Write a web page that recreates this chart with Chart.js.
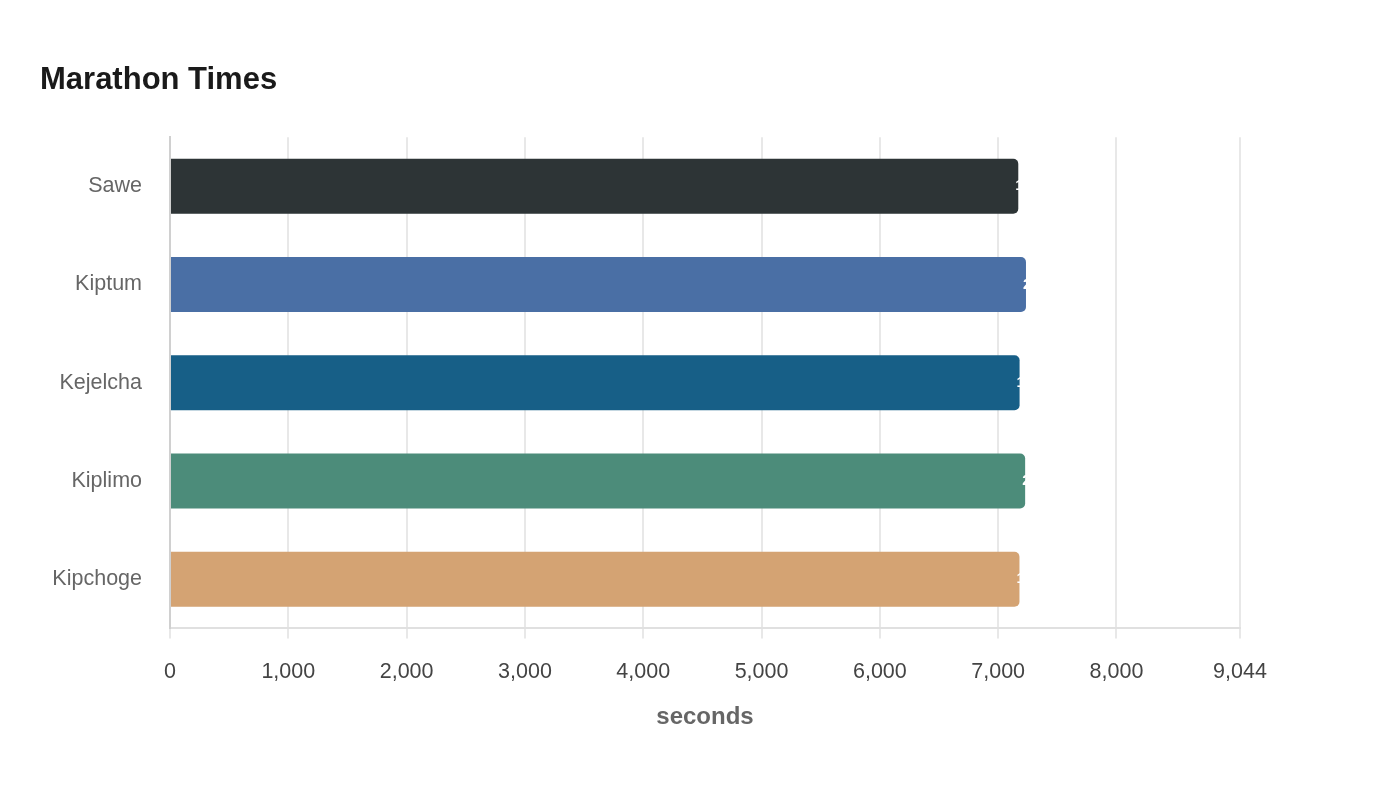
<!doctype html>
<html>
<head>
<title>Marathon Times</title>
<script src="https://cdn.jsdelivr.net/npm/chart.js@4.4.1/dist/chart.umd.min.js"></script>
<style>
  html, body { margin: 0; padding: 0; background: #fff; }
  #container { width: 1400px; height: 800px; }
</style>
</head>
<body>
<div id="container"><canvas id="bar-chart"></canvas></div>
<script>
// data
var runners = ['Sawe', 'Kiptum', 'Kejelcha', 'Kiplimo', 'Kipchoge'];
var times = [7170, 7235, 7181, 7228, 7180];
var colors = ['#2d3436', '#4a6fa5', '#175f87', '#4c8c7a', '#d4a373'];
var xTicks = [0, 1000, 2000, 3000, 4000, 5000, 6000, 7000, 8000, 9044];

Chart.defaults.font.family = 'Liberation Sans, Arial, sans-serif';

function fmtTime(s) {
  var h = Math.floor(s / 3600);
  var m = Math.floor((s % 3600) / 60);
  var sec = s % 60;
  return h + ':' + String(m).padStart(2, '0') + ':' + String(sec).padStart(2, '0');
}

// white value labels that start right at the bar end (mostly lost on the white background)
var endLabels = {
  id: 'endLabels',
  afterDatasetsDraw: function(chart) {
    var ctx = chart.ctx;
    ctx.save();
    ctx.fillStyle = '#fff';
    ctx.font = 'bold 15px Liberation Sans, Arial, sans-serif';
    ctx.textAlign = 'left';
    ctx.textBaseline = 'middle';
    chart.getDatasetMeta(0).data.forEach(function(bar, i) {
      ctx.fillText(fmtTime(times[i]), bar.x - 3, bar.y);
    });
    ctx.restore();
  }
};

new Chart(document.getElementById('bar-chart'), {
  type: 'bar',
  data: {
    labels: runners,
    datasets: [{
      label: 'seconds',
      data: times,
      backgroundColor: colors,
      borderRadius: 5,
      borderSkipped: 'start',
      barPercentage: 0.7,
      categoryPercentage: 0.8
    }]
  },
  options: {
    indexAxis: 'y',
    responsive: true,
    maintainAspectRatio: false,
    animation: false,
    layout: { padding: { left: 40, right: 160, top: 62, bottom: 68 } },
    plugins: {
      legend: { display: false },
      tooltip: { enabled: false },
      title: {
        display: true,
        text: 'Marathon Times',
        align: 'start',
        color: '#1a1a1a',
        font: { size: 31, weight: 'bold' },
        padding: { top: 0, bottom: 38 }
      }
    },
    scales: {
      x: {
        min: 0,
        max: xTicks[xTicks.length - 1],
        afterBuildTicks: function(scale) {
          scale.ticks = xTicks.map(function(v) { return { value: v }; });
        },
        ticks: {
          color: '#444',
          font: { size: 21.5 },
          padding: 21
        },
        grid: { color: '#e8e8e8', lineWidth: 2, tickLength: 10 },
        border: { color: '#e0e0e0', width: 2 },
        title: {
          display: true,
          text: 'seconds',
          color: '#666',
          font: { size: 24, weight: 'bold' },
          padding: { top: -3, bottom: 0 }
        }
      },
      y: {
        afterFit: function(scale) { scale.width = 130; },
        ticks: { color: '#666', font: { size: 21.5 }, padding: 20 },
        grid: { display: false },
        border: { color: '#d0d0d0', width: 2 }
      }
    }
  },
  plugins: [endLabels]
});
</script>
</body>
</html>
